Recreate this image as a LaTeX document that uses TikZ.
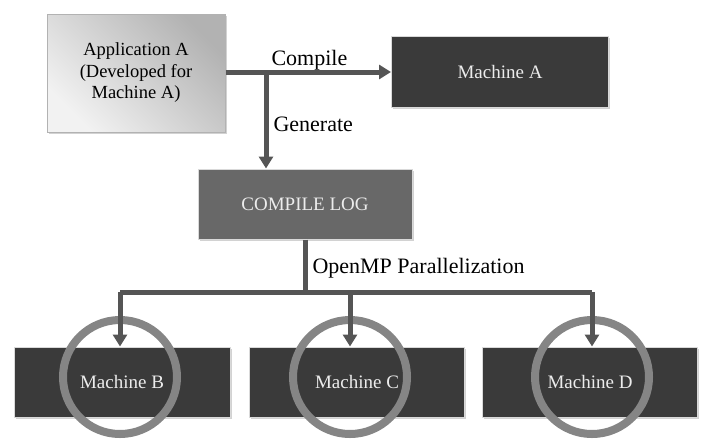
\documentclass[tikz,border=0pt]{standalone}
\usepackage{fontspec}
\setmainfont{Liberation Serif}
\usepackage{tikz}
\usetikzlibrary{arrows.meta,shadows}
\definecolor{boxdark}{HTML}{3A3A3A}
\definecolor{logmid}{HTML}{686868}
\definecolor{wire}{HTML}{555555}
\definecolor{ringgray}{HTML}{858585}

\begin{document}
\begin{tikzpicture}[x=1pt,y=-1pt,
    darkbox/.style={draw=gray!30, line width=1pt, fill=boxdark, text=gray!15,
       minimum height=70pt, font=\fontsize{19}{22}\selectfont,
       drop shadow={opacity=0.35, shadow xshift=1.5pt, shadow yshift=-1.5pt}},
    wire/.style={draw=wire, line width=5pt},
    arr/.style={wire, -{Triangle[width=14pt,length=12pt]}},
    ring/.style={circle, draw=ringgray, line width=8pt, minimum size=114pt, inner sep=0pt},
    lbl/.style={font=\fontsize{22}{25}\selectfont, anchor=west}]
    \useasboundingbox (0,0) rectangle (708,442);
    \fill[white] (0,0) rectangle (708,442);
    % top row
    \node[draw=gray!60, line width=1pt, shading=axis, top color=gray!10, bottom color=gray!60,
       shading angle=135,
       minimum width=178pt, minimum height=118pt, align=center,
       font=\fontsize{18.5}{21.5}\selectfont,
       drop shadow={opacity=0.35, shadow xshift=1.5pt, shadow yshift=-1.5pt}]
       (app) at (136,73) {Application A\\(Developed for\\Machine A)};
    \node[darkbox, minimum width=217pt, minimum height=71pt] (ma) at (500,72) {Machine A};
    \node[darkbox, fill=logmid, minimum width=214pt] (log) at (305,204) {COMPILE LOG};
    % bottom row
    \node[darkbox, minimum width=216pt] (mb) at (122,382) {Machine B};
    \node[darkbox, minimum width=215pt] (mc) at (357,382) {Machine C};
    \node[darkbox, minimum width=215pt] (md) at (590,382) {Machine D};
    \node[ring] (rb) at (120,377) {};
    \node[ring] (rc) at (350,377) {};
    \node[ring] (rd) at (592,377) {};
    % connectors
    \coordinate (split) at (266,72);
    \coordinate (fork) at (305,292);
    \draw[arr] (app.east |- split) -- (split -| ma.west);
    \draw[arr] (split) -- (split |- log.north);
    \draw[wire] (log.south) -- (fork);
    \draw[wire] (fork -| rb) -- (fork -| rd);
    \draw[arr] (fork -| rb) -- (rb |- mb.north);
    \draw[arr] (fork -| rc) -- (rc |- mc.north);
    \draw[arr] (fork -| rd) -- (rd |- md.north);
    % labels
    \node[lbl] (compile) at (268,60) {Compile};
    \node[lbl] (generate) at (270,124) {Generate};
    \node[lbl] (openmp) at (309,268) {OpenMP Parallelization};
\end{tikzpicture}
\end{document}
